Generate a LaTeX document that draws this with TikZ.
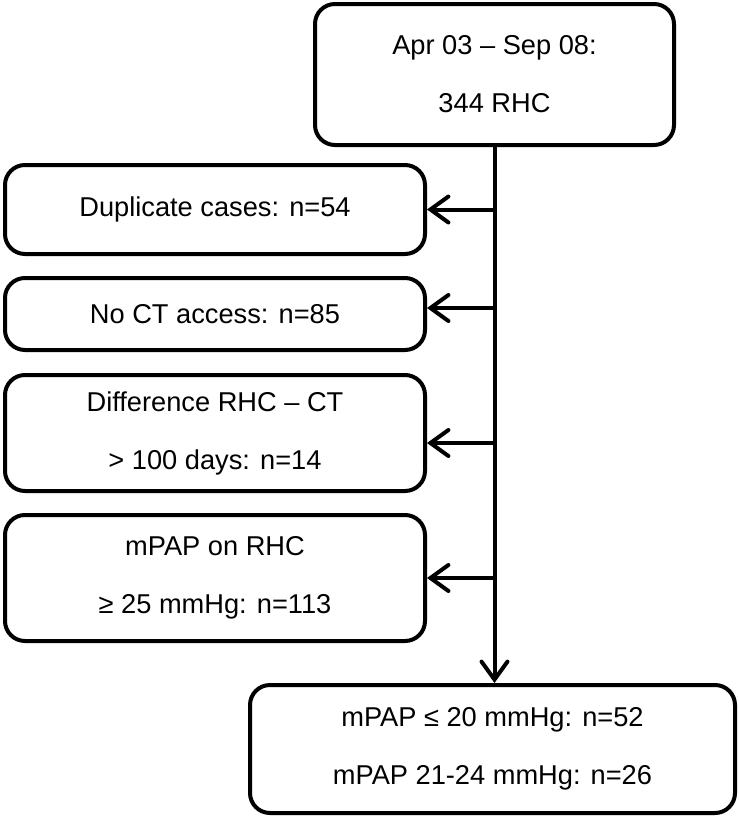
\documentclass[tikz,border=0pt]{standalone}
\usepackage{fontspec}
\setmainfont{Liberation Sans}
\usetikzlibrary{arrows.meta}

\begin{document}
\begin{tikzpicture}[
    box/.style={draw, line width=0.08cm, rounded corners=0.4cm, align=center,
                font=\fontsize{15.5}{33}\selectfont},
    flow/.style={line width=0.08cm, -{Straight Barb[length=0.36cm, width=0.52cm, line cap=round]}}
  ]

\useasboundingbox (0,0) rectangle (14.78,-16.36);

%% boxes
\node[box, minimum width=7.18cm, minimum height=2.82cm] (start) at (9.89,-1.49)
  {Apr 03 -- Sep 08:\\344 RHC};
\node[box, minimum width=8.40cm, minimum height=1.78cm] (dup) at (4.30,-4.19)
  {Duplicate cases: n=54};
\node[box, minimum width=8.40cm, minimum height=1.44cm] (noct) at (4.30,-6.28)
  {No CT access: n=85};
\node[box, minimum width=8.40cm, minimum height=2.32cm] (diff) at (4.30,-8.66)
  {Difference RHC -- CT\\> 100 days: n=14};
\node[box, minimum width=8.40cm, minimum height=2.52cm] (mpap) at (4.30,-11.56)
  {mPAP on RHC\\≥ 25 mmHg: n=113};
\node[box, minimum width=9.70cm, minimum height=2.56cm] (final) at (9.85,-14.98)
  {mPAP ≤ 20 mmHg: n=52\\mPAP 21-24 mmHg: n=26};

%% edges
\draw[flow] (start.south) -- (start.south |- final.north);   %% main line
\draw[flow] (start.south |- dup.east) -- (dup.east);         %% exclusions
\draw[flow] ([yshift=0.12cm]start.south |- noct.east) -- ([yshift=0.12cm]noct.east);
\draw[flow] ([yshift=-0.2cm]start.south |- diff.east) -- ([yshift=-0.2cm]diff.east);
\draw[flow] (start.south |- mpap.east) -- (mpap.east);

\end{tikzpicture}
\end{document}
